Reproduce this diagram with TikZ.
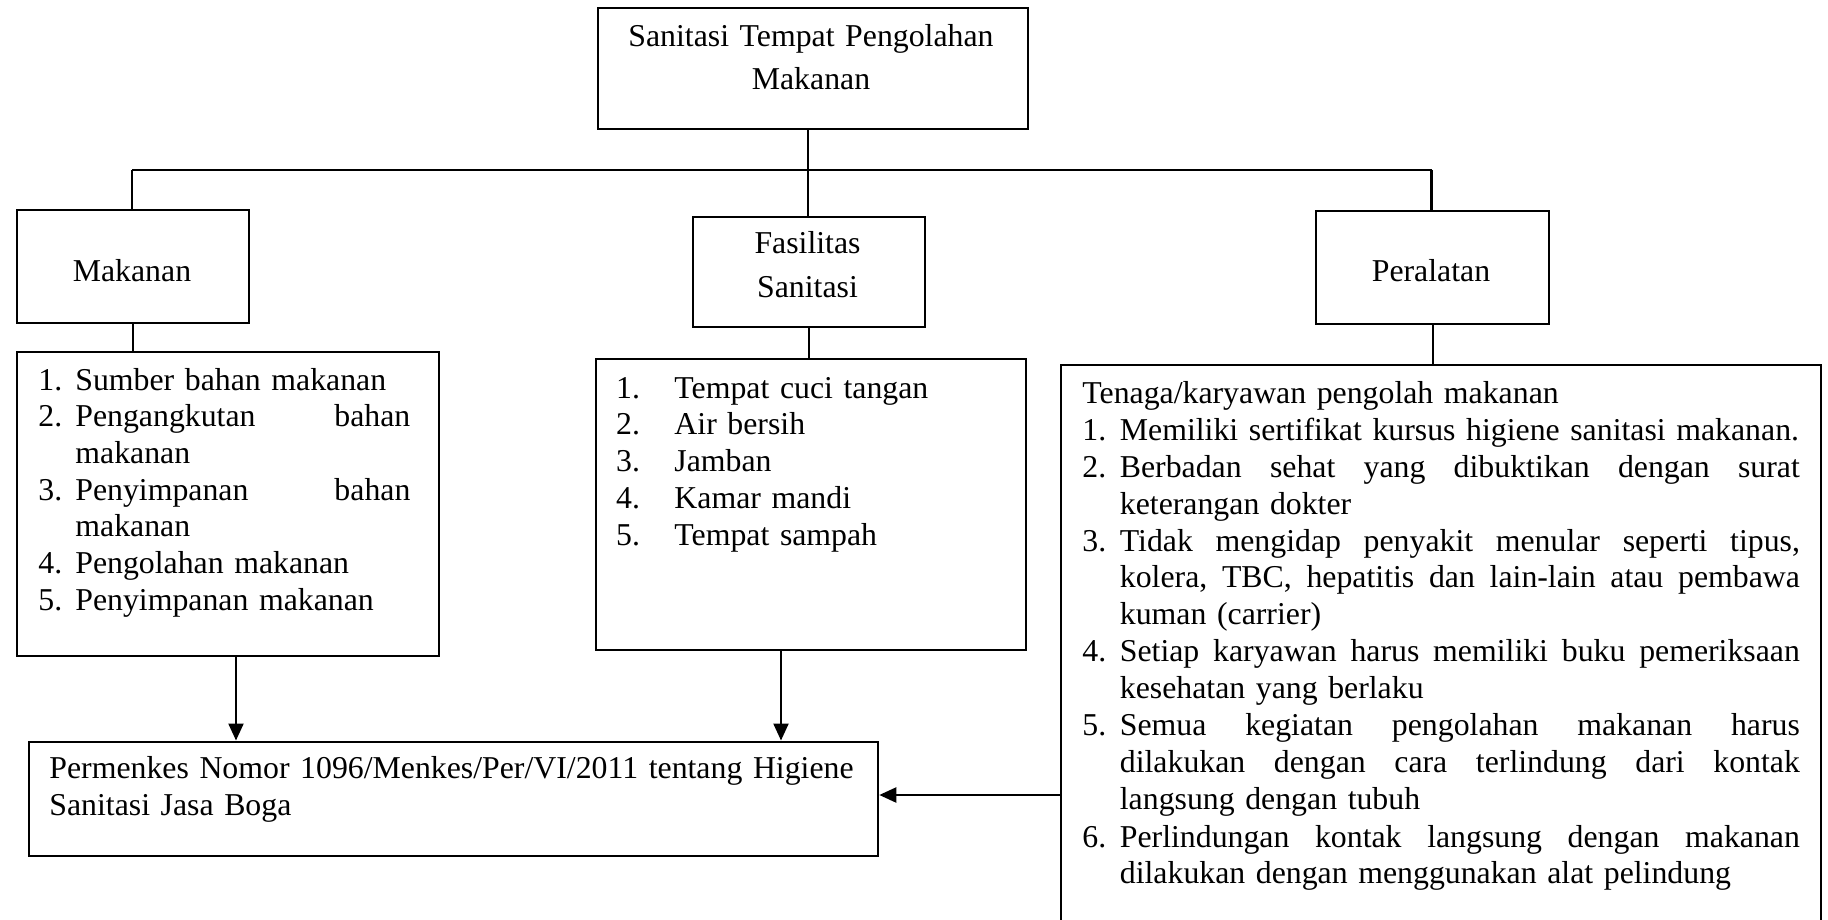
\documentclass[tikz,border=0pt]{standalone}
\usepackage{fontspec}
\setmainfont{Liberation Serif}
\usetikzlibrary{arrows.meta}
\newcommand\jl[2]{\hbox to #1{#2}}
\begin{document}
\begin{tikzpicture}[x=0.5pt,y=-0.5pt,
  ln/.style={line width=1.15pt},
  boxst/.style={draw,line width=1.15pt,inner sep=0pt,anchor=north west},
  hold/.style={inner sep=0pt,anchor=north west},
  txt/.style={inner sep=0pt,font=\fontsize{15.9pt}{18.5pt}\selectfont},
  arr/.style={line width=1.15pt,-{Triangle[length=8.5pt,width=7.5pt]}}]
\useasboundingbox (0,0) rectangle (1828,920);
% boxes
\node[boxst,minimum width=215pt,minimum height=60.5pt] (top) at (597,7) {};
\node[boxst,minimum width=116pt,minimum height=56.5pt] (mak) at (16,209) {};
\node[boxst,minimum width=116pt,minimum height=55pt] (fas) at (692,216) {};
\node[boxst,minimum width=116.5pt,minimum height=56.5pt] (per) at (1315,210) {};
\node[boxst,minimum width=211pt,minimum height=152pt] (l1) at (16,351) {};
\node[boxst,minimum width=214.75pt,minimum height=145.5pt] (l2) at (595,358) {};
\node[hold,minimum width=379.5pt,minimum height=277.5pt] (rl) at (1061,365) {};
\draw[ln] (rl.south west) -- (rl.north west) -- (rl.north east) -- (rl.south east);
\node[boxst,minimum width=424.5pt,minimum height=57.25pt] (bot) at (28,740.5) {};
% texts
\node[txt,anchor=base,text width=200pt,align=center,font=\fontsize{15.9pt}{21.5pt}\selectfont] (toptxt) at (811,47) {Sanitasi Tempat Pengolahan\\Makanan};
\node[txt,anchor=base] (maktxt) at (132,281.7) {Makanan};
\node[txt,anchor=base,text width=100pt,align=center,font=\fontsize{15.9pt}{21.5pt}\selectfont] (fastxt) at (807.5,254) {Fasilitas\\Sanitasi};
\node[txt,anchor=base] (pertxt) at (1431,281.7) {Peralatan};
\node[txt,anchor=base west,text width=186pt,align=left,font=\fontsize{15.9pt}{18.35pt}\selectfont] (l1txt) at (38,390) {%
\makebox[18.5pt][l]{1.}Sumber bahan makanan\\
\makebox[18.5pt][l]{2.}\jl{167.5pt}{Pengangkutan\hfill bahan}\\
\hspace*{18.5pt}makanan\\
\makebox[18.5pt][l]{3.}\jl{167.5pt}{Penyimpanan\hfill bahan}\\
\hspace*{18.5pt}makanan\\
\makebox[18.5pt][l]{4.}Pengolahan makanan\\
\makebox[18.5pt][l]{5.}Penyimpanan makanan};
\node[txt,anchor=base west,text width=200pt,align=left,font=\fontsize{15.9pt}{18.4pt}\selectfont] (l2txt) at (615.7,398) {%
\makebox[29.2pt][l]{1.}Tempat cuci tangan\\
\makebox[29.2pt][l]{2.}Air bersih\\
\makebox[29.2pt][l]{3.}Jamban\\
\makebox[29.2pt][l]{4.}Kamar mandi\\
\makebox[29.2pt][l]{5.}Tempat sampah};
\node[txt,anchor=base west,text width=360pt,align=left] (rltxt) at (1082,403) {%
Tenaga/karyawan pengolah makanan\\
\makebox[18.75pt][l]{1.}Memiliki sertifikat kursus higiene sanitasi makanan.\\
\makebox[18.75pt][l]{2.}\jl{340pt}{Berbadan\hfill sehat\hfill yang\hfill dibuktikan\hfill dengan\hfill surat}\\
\hspace*{18.75pt}keterangan dokter\\
\makebox[18.75pt][l]{3.}\jl{340pt}{Tidak\hfill mengidap\hfill penyakit\hfill menular\hfill seperti\hfill tipus,}\\
\hspace*{18.75pt}\jl{340pt}{kolera,\hfill TBC,\hfill hepatitis\hfill dan\hfill lain-lain\hfill atau\hfill pembawa}\\
\hspace*{18.75pt}kuman (carrier)\\
\makebox[18.75pt][l]{4.}\jl{340pt}{Setiap\hfill karyawan\hfill harus\hfill memiliki\hfill buku\hfill pemeriksaan}\\
\hspace*{18.75pt}kesehatan yang berlaku\\
\makebox[18.75pt][l]{5.}\jl{340pt}{Semua\hfill kegiatan\hfill pengolahan\hfill makanan\hfill harus}\\
\hspace*{18.75pt}\jl{340pt}{dilakukan\hfill dengan\hfill cara\hfill terlindung\hfill dari\hfill kontak}\\
\hspace*{18.75pt}langsung dengan tubuh\\
\makebox[18.75pt][l]{6.}\jl{340pt}{Perlindungan\hfill kontak\hfill langsung\hfill dengan\hfill makanan}\\
\hspace*{18.75pt}dilakukan dengan menggunakan alat pelindung};
\node[txt,anchor=base west,text width=410pt,align=left] (bottxt) at (49,778) {%
Permenkes Nomor 1096/Menkes/Per/VI/2011 tentang Higiene\\
Sanitasi Jasa Boga};
% connectors
\coordinate (jc) at (808,170);
\coordinate (jl) at (132,170);
\coordinate (jr) at (1431.5,170);
\draw[ln] (jc |- top.south) -- (jc);
\draw[ln] (jl) -- (jr);
\draw[ln] (jl) -- (jl |- mak.north);
\draw[ln] (jc) -- (jc |- fas.north);
\draw[ln] (jr) -- (jr |- per.north);
\draw[ln] (mak.south) -- (mak.south |- l1.north);
\draw[ln] (fas.south) -- (fas.south |- l2.north);
\draw[ln] (per.south) -- (per.south |- rl.north);
\coordinate (a1x) at (236,700);
\coordinate (a2x) at (781,700);
\coordinate (a3y) at (1000,795);
\draw[arr] (a1x |- l1.south) -- (a1x |- bot.north);
\draw[arr] (a2x |- l2.south) -- (a2x |- bot.north);
\draw[arr] (rl.west |- a3y) -- (bot.east |- a3y);
\end{tikzpicture}
\end{document}
